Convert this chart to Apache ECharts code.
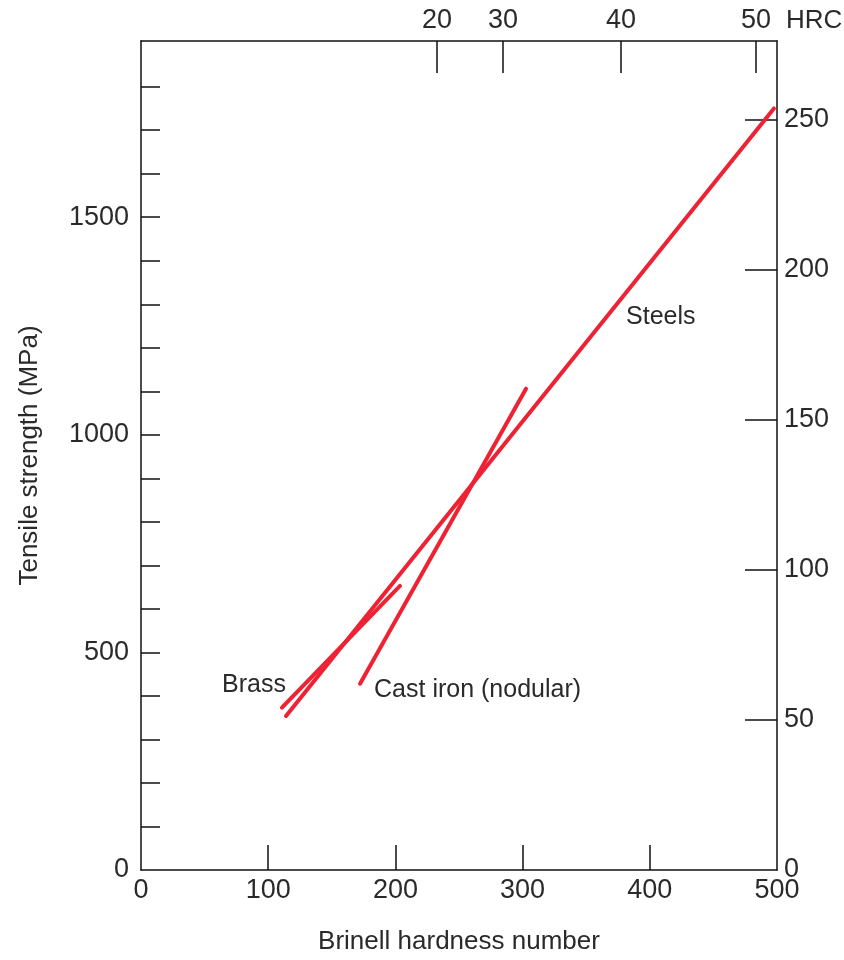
<!DOCTYPE html>
<html>
<head>
<meta charset="utf-8">
<script src="https://cdn.jsdelivr.net/npm/echarts@6/dist/echarts.min.js"></script>
<style>
  html, body { margin: 0; padding: 0; background: #fff; }
  #chart { width: 844px; height: 960px; }
</style>
</head>
<body>
<div id="chart"></div>
<script>
// Brinell hardness -> tensile strength (MPa), end points
var steelsHB = [114, 497.6];
var steelsTS = [354, 1750];
var brassHB = [110.8, 203.6];
var brassTS = [373, 653];
var castIronHB = [172.2, 302.7];
var castIronTS = [428, 1106];

// labels placed next to the lines (left edge of the text)
var labelNames = ['Brass', 'Cast iron (nodular)', 'Steels'];
var labelHB = [63.7, 183.2, 381.3];
var labelTS = [425, 414, 1270];

// axis ticks
var hbTicks = [100, 200, 300, 400];
var hbLabels = [0, 100, 200, 300, 400, 500];
var mpaTicks = [100, 200, 300, 400, 500, 600, 700, 800, 900, 1000, 1100, 1200, 1300, 1400, 1500, 1600, 1700, 1800];
var mpaLabels = [0, 500, 1000, 1500];
var ksiTicks = [50, 100, 150, 200, 250];
var ksiLabels = [0, 50, 100, 150, 200, 250];
var hrcTicks = [20, 30, 40, 50];
var hrcAtHB = [232.7, 284.6, 377.4, 483.5];

var MPA_MAX = 1905;
var KSI_MAX = 276.3;

var textColor = '#2a2a2a';
var lineRed = '#ee2233';
var font = 'Liberation Sans, Arial, sans-serif';

function pairs(xs, ys) {
  return xs.map(function (x, i) { return [x, ys[i]]; });
}
function plain(v) { return String(v); }

var chart = echarts.init(document.getElementById('chart'));

var axisLine = { show: true, onZero: false, lineStyle: { color: '#111', width: 1.5 } };
var tickStyle = { color: '#111', width: 1.5 };

chart.setOption({
  animation: false,
  backgroundColor: '#fff',
  grid: { left: 141, right: 67, top: 41, bottom: 90, containLabel: false, outerBoundsMode: 'none' },
  xAxis: [
    {
      type: 'value',
      position: 'bottom',
      min: 0,
      max: 500,
      interval: 100,
      name: 'Brinell hardness number',
      nameLocation: 'middle',
      nameGap: 59,
      nameTextStyle: { color: textColor, fontSize: 26, fontFamily: font },
      axisLine: axisLine,
      axisTick: { inside: true, length: 25, lineStyle: tickStyle, customValues: hbTicks },
      axisLabel: { color: textColor, fontSize: 27, fontFamily: font, margin: 7, customValues: hbLabels, formatter: plain },
      splitLine: { show: false }
    },
    {
      type: 'value',
      position: 'top',
      min: 0,
      max: 500,
      name: 'HRC',
      nameLocation: 'end',
      nameGap: 9,
      nameTextStyle: { color: textColor, fontSize: 26, fontFamily: font, verticalAlign: 'bottom', padding: [0, 0, 7, 0] },
      axisLine: axisLine,
      axisTick: { inside: true, length: 32, lineStyle: tickStyle, customValues: hrcAtHB },
      axisLabel: {
        color: textColor, fontSize: 27, fontFamily: font, margin: 7,
        customValues: hrcAtHB,
        formatter: function (v) {
          var i = hrcAtHB.indexOf(v);
          return i >= 0 ? String(hrcTicks[i]) : '';
        }
      },
      splitLine: { show: false }
    }
  ],
  yAxis: [
    {
      type: 'value',
      position: 'left',
      min: 0,
      max: MPA_MAX,
      name: 'Tensile strength (MPa)',
      nameLocation: 'middle',
      nameGap: 98,
      nameTextStyle: { color: textColor, fontSize: 26, fontFamily: font },
      axisLine: axisLine,
      axisTick: { inside: true, length: 19, lineStyle: tickStyle, customValues: mpaTicks },
      axisLabel: { color: textColor, fontSize: 27, fontFamily: font, margin: 12, customValues: mpaLabels, formatter: plain },
      splitLine: { show: false }
    },
    {
      type: 'value',
      position: 'right',
      min: 0,
      max: KSI_MAX,
      axisLine: axisLine,
      axisTick: { inside: true, length: 32, lineStyle: tickStyle, customValues: ksiTicks },
      axisLabel: { color: textColor, fontSize: 27, fontFamily: font, margin: 7, customValues: ksiLabels, formatter: plain },
      splitLine: { show: false }
    }
  ],
  series: [
    {
      name: 'Steels',
      type: 'line',
      xAxisIndex: 0,
      yAxisIndex: 0,
      showSymbol: false,
      lineStyle: { color: lineRed, width: 4, cap: 'round' },
      data: pairs(steelsHB, steelsTS)
    },
    {
      name: 'Brass',
      type: 'line',
      xAxisIndex: 0,
      yAxisIndex: 0,
      showSymbol: false,
      lineStyle: { color: lineRed, width: 4, cap: 'round' },
      data: pairs(brassHB, brassTS)
    },
    {
      name: 'Cast iron',
      type: 'line',
      xAxisIndex: 0,
      yAxisIndex: 0,
      showSymbol: false,
      lineStyle: { color: lineRed, width: 4, cap: 'round' },
      data: pairs(castIronHB, castIronTS)
    },
    {
      // text next to the lines; scatter defaults to 0.8 opacity, so force 1
      type: 'scatter',
      xAxisIndex: 0,
      yAxisIndex: 0,
      symbolSize: 0,
      silent: true,
      itemStyle: { opacity: 1 },
      label: {
        show: true,
        position: 'right',
        distance: 0,
        formatter: '{b}',
        color: textColor,
        opacity: 1,
        fontSize: 25,
        fontFamily: font
      },
      data: labelNames.map(function (n, i) {
        return { name: n, value: [labelHB[i], labelTS[i]] };
      })
    }
  ]
});
</script>
</body>
</html>
